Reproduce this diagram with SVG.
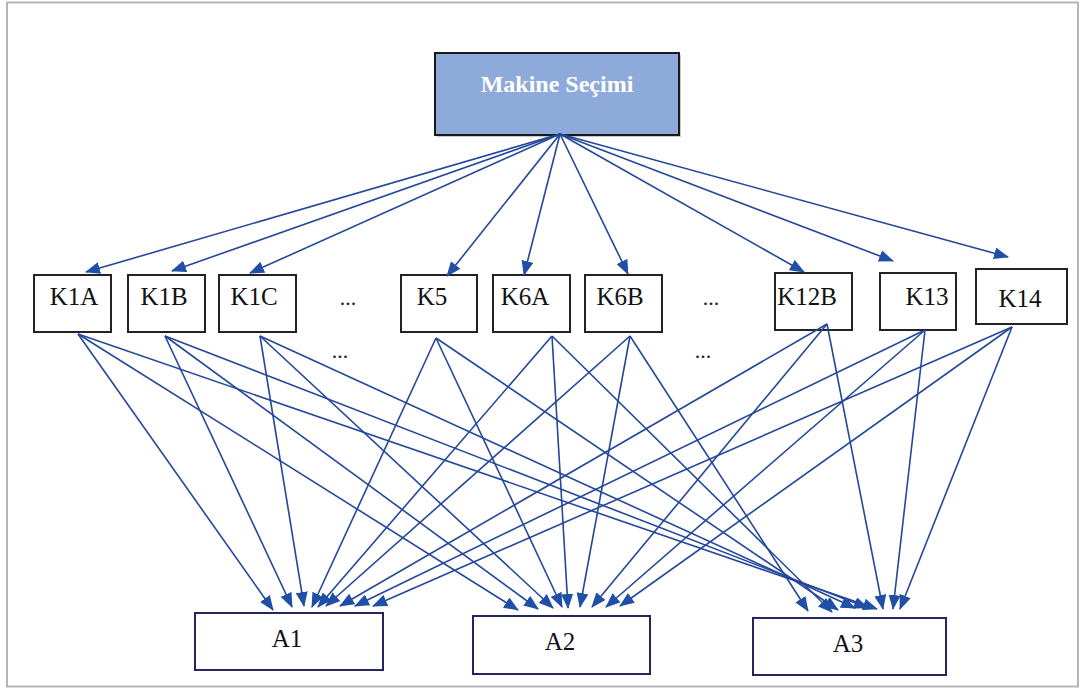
<svg xmlns="http://www.w3.org/2000/svg" width="1084" height="691" viewBox="0 0 1084 691">
<style>
.box{fill:#fff;stroke:#222;stroke-width:2}
.abox{fill:#fff;stroke:#25255e;stroke-width:2}
text{font-family:'Liberation Serif','Times New Roman',serif}
.lbl{font-size:25px;fill:#111;text-anchor:middle}
.dots{font-size:22px;fill:#222;text-anchor:middle}
.c line{stroke:#23479a;stroke-width:1.6;marker-end:url(#ah)}
</style>
<defs>
<marker id="ah" markerUnits="userSpaceOnUse" markerWidth="15" markerHeight="12" viewBox="0 0 15 12" refX="14" refY="6" orient="auto">
<path d="M0,0 L15,6 L0,12 Z" fill="#1f4fa6"/>
</marker>
</defs>
<rect x="0" y="0" width="1084" height="691" fill="#fff"/>
<rect x="7" y="2.5" width="1071" height="684" fill="none" stroke="#b5b5b5" stroke-width="2"/>

<g id="makine">
<rect x="437" y="55" width="244" height="82" fill="#c8c8c8"/>
<rect x="435" y="53" width="244" height="82" fill="#8eaadb" stroke="#1a1a1a" stroke-width="2"/>
<text x="557" y="92" class="lbl" style="fill:#fff;font-weight:bold;font-size:24px">Makine Seçimi</text>
</g>

<g id="K1A"><rect class="box" x="34" y="275" width="77" height="57"/><text class="lbl" x="74" y="305">K1A</text></g>
<g id="K1B"><rect class="box" x="128" y="275" width="77" height="57"/><text class="lbl" x="164" y="305">K1B</text></g>
<g id="K1C"><rect class="box" x="219" y="275" width="77" height="57"/><text class="lbl" x="254" y="305">K1C</text></g>
<g id="K5"><rect class="box" x="401" y="275" width="76" height="57"/><text class="lbl" x="432" y="305">K5</text></g>
<g id="K6A"><rect class="box" x="493" y="275" width="77" height="57"/><text class="lbl" x="525" y="305">K6A</text></g>
<g id="K6B"><rect class="box" x="585" y="275" width="77" height="57"/><text class="lbl" x="620" y="305">K6B</text></g>
<g id="K12B"><rect class="box" x="775" y="273" width="77" height="57"/><text class="lbl" x="807" y="305">K12B</text></g>
<g id="K13"><rect class="box" x="880" y="273" width="76" height="57"/><text class="lbl" x="927" y="305">K13</text></g>
<g id="K14"><rect class="box" x="976" y="269" width="91" height="55"/><text class="lbl" x="1020" y="307">K14</text></g>

<g id="dots">
<text class="dots" x="348" y="305">...</text>
<text class="dots" x="711" y="305">...</text>
<text class="dots" x="340" y="358">...</text>
<text class="dots" x="703" y="358">...</text>
</g>

<g id="A1"><rect class="abox" x="195" y="613" width="188" height="57"/><text class="lbl" x="287" y="647">A1</text></g>
<g id="A2"><rect class="abox" x="473" y="616" width="177" height="58"/><text class="lbl" x="560" y="650">A2</text></g>
<g id="A3"><rect class="abox" x="753" y="618" width="193" height="57"/><text class="lbl" x="848" y="652">A3</text></g>

<g id="connectors" class="c">
<line x1="560" y1="134" x2="86" y2="272"/>
<line x1="560" y1="134" x2="172" y2="271"/>
<line x1="560" y1="134" x2="250" y2="273"/>
<line x1="560" y1="134" x2="447" y2="276"/>
<line x1="560" y1="134" x2="524" y2="275"/>
<line x1="560" y1="134" x2="628" y2="274"/>
<line x1="560" y1="134" x2="804" y2="272"/>
<line x1="560" y1="134" x2="893" y2="261"/>
<line x1="560" y1="134" x2="1008" y2="257"/>

<line x1="78" y1="334" x2="273" y2="610"/>
<line x1="78" y1="334" x2="518" y2="610"/>
<line x1="78" y1="334" x2="877" y2="609"/>
<line x1="165" y1="336" x2="292" y2="607"/>
<line x1="165" y1="336" x2="538" y2="609"/>
<line x1="165" y1="336" x2="868" y2="608"/>
<line x1="260" y1="336" x2="304" y2="606"/>
<line x1="260" y1="336" x2="553" y2="608"/>
<line x1="260" y1="336" x2="855" y2="608"/>
<line x1="436" y1="338" x2="312" y2="607"/>
<line x1="436" y1="338" x2="562" y2="607"/>
<line x1="436" y1="338" x2="838" y2="610"/>
<line x1="552" y1="336" x2="318" y2="607"/>
<line x1="552" y1="336" x2="568" y2="608"/>
<line x1="552" y1="336" x2="832" y2="612"/>
<line x1="630" y1="336" x2="326" y2="606"/>
<line x1="630" y1="336" x2="580" y2="607"/>
<line x1="630" y1="336" x2="808" y2="611"/>
<line x1="827" y1="324" x2="340" y2="606"/>
<line x1="827" y1="324" x2="592" y2="607"/>
<line x1="827" y1="324" x2="883" y2="609"/>
<line x1="925" y1="330" x2="355" y2="606"/>
<line x1="925" y1="330" x2="606" y2="607"/>
<line x1="925" y1="330" x2="893" y2="609"/>
<line x1="1012" y1="327" x2="373" y2="606"/>
<line x1="1012" y1="327" x2="620" y2="606"/>
<line x1="1012" y1="327" x2="900" y2="609"/>
</g>
</svg>
